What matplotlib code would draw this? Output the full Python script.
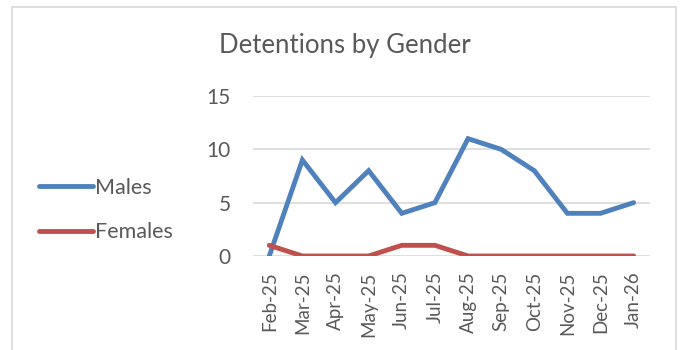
import matplotlib.pyplot as plt
from matplotlib.patches import Rectangle

plt.rcParams['font.family'] = ['Lato', 'DejaVu Sans']

months = ["Feb-25", "Mar-25", "Apr-25", "May-25", "Jun-25", "Jul-25",
          "Aug-25", "Sep-25", "Oct-25", "Nov-25", "Dec-25", "Jan-26"]
males = [0, 9, 5, 8, 4, 5, 11, 10, 8, 4, 4, 5]
females = [1, 0, 0, 0, 1, 1, 0, 0, 0, 0, 0, 0]
y_ticks = [0, 5, 10, 15]

text_col = "#595959"
grid_col = "#D9D9D9"

fig = plt.figure(figsize=(6.83, 3.5), dpi=100)
ax = fig.add_axes([0.370, 0.2686, 0.582, 0.4571])

# outer chart frame
fig.patches.append(Rectangle((12 / 683, -0.05), 664 / 683, 1.05 - 7 / 350,
                             transform=fig.transFigure, fill=False,
                             edgecolor=grid_col, linewidth=1.2))

x = list(range(len(months)))
for yv in y_ticks:
    ax.axhline(yv, color=grid_col, linewidth=1.2, zorder=1)

l1, = ax.plot(x, males, color="#4F81BD", linewidth=3.5, label="Males",
              solid_capstyle="round", solid_joinstyle="miter", zorder=3)
l2, = ax.plot(x, females, color="#C0504D", linewidth=3.5, label="Females",
              solid_capstyle="round", solid_joinstyle="miter", zorder=3)

ax.set_xlim(-0.5, len(months) - 0.5)
ax.set_ylim(0, 15)
ax.set_yticks(y_ticks)
ax.set_xticks(x)
ax.set_xticklabels(months, rotation=90, fontsize=13.5, color=text_col)
ax.set_yticklabels([str(v) for v in y_ticks], fontsize=15, color=text_col)
ax.tick_params(axis="y", length=0, pad=16)
ax.tick_params(axis="x", length=0, pad=11)
for s in ax.spines.values():
    s.set_visible(False)

fig.text(345 / 683, 1 - 46 / 350, "Detentions by Gender", ha="center",
         va="center", fontsize=18.5, color=text_col)

leg = fig.legend(handles=[l1, l2], loc="center left",
                 bbox_to_anchor=(20 / 683, 1 - 210 / 350), frameon=False,
                 fontsize=15.5, handlelength=2.5, handletextpad=0.1,
                 labelspacing=1.15, labelcolor=text_col)

fig.savefig("out.png", dpi=100)
